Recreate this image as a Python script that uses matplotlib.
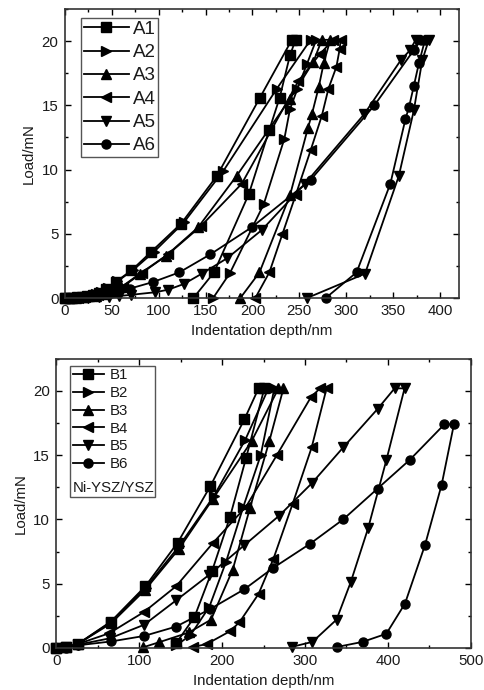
import matplotlib
matplotlib.use("Agg")
import matplotlib.pyplot as plt
from matplotlib.ticker import MultipleLocator
from matplotlib.patches import Rectangle

plt.rcParams['font.family'] = ['Liberation Sans', 'DejaVu Sans']

# ---- top panel: A series (loading then unloading), depth nm / load mN
A1_x = [0, 4, 8, 13, 18, 24, 30, 36, 44, 54, 71, 92, 124, 162, 208, 242, 246, 240, 229, 218, 196, 159, 137]
A1_y = [0, 0.01, 0.03, 0.06, 0.1, 0.17, 0.27, 0.42, 0.7, 1.25, 2.15, 3.6, 5.8, 9.5, 15.6, 20.1, 20.1, 18.9, 15.6, 13.1, 8.07, 2.0, 0]
A2_x = [0, 5, 10, 15, 21, 27, 33, 39, 46, 56, 73, 95, 127, 169, 226, 262, 268, 258, 248, 240, 234, 212, 176, 158]
A2_y = [0, 0.01, 0.03, 0.06, 0.11, 0.19, 0.3, 0.46, 0.75, 1.3, 2.2, 3.6, 5.9, 9.9, 16.3, 20.1, 20.1, 18.2, 16.3, 14.7, 12.4, 7.3, 1.95, 0]
A3_x = [0, 6, 12, 19, 26, 33, 40, 47, 60, 80, 108, 142, 183, 240, 265, 274, 283, 276, 270.6, 263.5, 259, 240, 207.5, 187]
A3_y = [0, 0.01, 0.03, 0.07, 0.13, 0.2, 0.31, 0.45, 0.85, 1.9, 3.3, 5.5, 9.5, 15.5, 18.4, 20.1, 20.1, 18.3, 16.4, 14.35, 13.2, 8.0, 2.0, 0]
A4_x = [0, 7, 14, 21, 28, 35, 42, 49, 62, 82, 110, 145, 188.6, 249, 272, 286, 294, 293, 289.5, 281, 274, 262, 246, 232, 218, 203]
A4_y = [0, 0.01, 0.03, 0.07, 0.14, 0.21, 0.32, 0.47, 0.9, 1.95, 3.4, 5.6, 8.9, 16.9, 19.0, 20.1, 20.1, 19.4, 18.0, 16.3, 14.2, 11.5, 8.0, 5.0, 2.0, 0]
A5_x = [0, 12, 25, 36, 47, 58, 70, 96, 110, 127, 146, 173, 210, 256, 319, 358, 368, 374, 388, 381, 372, 356, 320, 258]
A5_y = [0, 0.01, 0.02, 0.05, 0.1, 0.16, 0.25, 0.45, 0.65, 1.1, 1.9, 3.1, 5.3, 8.9, 14.3, 18.5, 19.3, 20.1, 20.1, 18.5, 14.6, 9.5, 1.9, 0]
A6_x = [0, 10, 20, 31, 42, 55, 69, 94, 122, 155, 199, 262, 330, 372, 380, 384, 377.5, 372, 367, 363, 347, 311, 278]
A6_y = [0, 0.03, 0.08, 0.18, 0.33, 0.5, 0.73, 1.25, 2.0, 3.4, 5.5, 9.2, 15.0, 19.3, 20.1, 20.1, 18.3, 16.5, 14.9, 13.9, 8.9, 2.0, 0]

# ---- bottom panel: B series
B1_x = [0, 12, 26, 66, 107.6, 146.6, 186, 227, 244, 251, 229, 209.6, 188, 166.7, 144.6]
B1_y = [0, 0.05, 0.3, 2.05, 4.8, 8.2, 12.6, 17.8, 20.2, 20.2, 14.8, 10.2, 6.0, 2.4, 0.36]
B2_x = [0, 12, 26, 66, 108, 148, 190, 228, 256, 263, 246.6, 225.7, 204.8, 184.7, 162, 145]
B2_y = [0, 0.05, 0.3, 2.0, 4.7, 7.9, 11.8, 16.2, 20.2, 20.2, 15.0, 11.0, 6.7, 3.2, 1.0, 0.2]
B3_x = [0, 12, 26, 66, 107, 148, 189, 235.7, 268, 274, 257, 233.7, 212.9, 186.7, 160, 124.5, 105]
B3_y = [0, 0.05, 0.3, 1.9, 4.5, 7.7, 11.6, 16.1, 20.2, 20.2, 16.1, 10.9, 6.1, 2.2, 1.2, 0.45, 0.05]
B4_x = [0, 12, 26, 64, 106, 144.6, 188.8, 229, 266, 307, 318, 326, 308, 285, 262, 244, 221, 209.6, 181.5, 165.5]
B4_y = [0, 0.05, 0.3, 1.14, 2.8, 4.8, 8.15, 11.0, 15.0, 19.5, 20.2, 20.2, 15.6, 11.2, 6.95, 4.2, 2.0, 1.3, 0.3, 0.08]
B5_x = [0, 12, 26, 65, 106, 144.6, 184.7, 227, 269, 308, 346, 387.5, 408, 420, 398, 376, 355, 338, 309, 284]
B5_y = [0, 0.05, 0.25, 0.75, 1.8, 3.7, 5.7, 8.0, 10.3, 12.8, 15.6, 18.6, 20.2, 20.2, 14.6, 9.3, 5.1, 2.2, 0.47, 0.08]
B6_x = [0, 12, 26, 66, 106, 144.6, 185, 227, 261, 306, 346, 387.5, 426.5, 468, 479.5, 464.7, 444.6, 420.5, 398, 369.5, 339]
B6_y = [0, 0.03, 0.2, 0.5, 0.93, 1.66, 3.0, 4.57, 6.2, 8.1, 10.0, 12.4, 14.65, 17.4, 17.4, 12.7, 8.0, 3.45, 1.1, 0.47, 0.08]

markers = ['s', '>', '^', '<', 'v', 'o']
top_series = [(A1_x, A1_y), (A2_x, A2_y), (A3_x, A3_y), (A4_x, A4_y), (A5_x, A5_y), (A6_x, A6_y)]
top_labels = ['A1', 'A2', 'A3', 'A4', 'A5', 'A6']
bot_series = [(B1_x, B1_y), (B2_x, B2_y), (B3_x, B3_y), (B4_x, B4_y), (B5_x, B5_y), (B6_x, B6_y)]
bot_labels = ['B1', 'B2', 'B3', 'B4', 'B5', 'B6']

txt_col = '#1a1a1a'

fig = plt.figure(figsize=(4.84, 6.9), dpi=100)
ax1 = fig.add_axes([0.134, 0.568, 0.814, 0.419])
ax2 = fig.add_axes([0.116, 0.061, 0.857, 0.419])


def style_axes(ax, xmax, xmajor, xminor):
    ax.set_xlim(0, xmax)
    ax.set_ylim(0, 22.5)
    ax.xaxis.set_major_locator(MultipleLocator(xmajor))
    ax.xaxis.set_minor_locator(MultipleLocator(xminor))
    ax.yaxis.set_major_locator(MultipleLocator(5))
    ax.yaxis.set_minor_locator(MultipleLocator(2.5))
    ax.tick_params(which='both', direction='in', top=True, right=True,
                   labelsize=10.8, labelcolor=txt_col, width=1.0, pad=4.5)
    ax.tick_params(which='major', length=4)
    ax.tick_params(which='minor', length=2.5)
    for sp in ax.spines.values():
        sp.set_linewidth(1.2)
        sp.set_color('#333333')
    ax.set_xlabel('Indentation depth/nm', fontsize=10.8, color=txt_col, labelpad=4)
    ax.set_ylabel('Load/mN', fontsize=10.8, color=txt_col, labelpad=4)


for (x, y), m, lab in zip(top_series, markers, top_labels):
    ax1.plot(x, y, color='black', lw=1.3, marker=m, ms=6.5, label=lab, clip_on=False)
style_axes(ax1, 420, 50, 25)
leg1 = ax1.legend(loc='upper left', bbox_to_anchor=(0.041, 0.969), borderaxespad=0,
                  fontsize=13.5, handlelength=2.4, handletextpad=0.2, labelspacing=0.33,
                  borderpad=0.15, fancybox=False, edgecolor='#555555', framealpha=1)
leg1.get_frame().set_linewidth(1.0)
for t in leg1.get_texts():
    t.set_color(txt_col)

for (x, y), m, lab in zip(bot_series, markers, bot_labels):
    ax2.plot(x, y, color='black', lw=1.3, marker=m, ms=6.5, label=lab, clip_on=False)
style_axes(ax2, 500, 100, 50)
leg2 = ax2.legend(loc='upper left', bbox_to_anchor=(0.036, 0.972), borderaxespad=0,
                  fontsize=10.8, handlelength=2.1, handletextpad=0.4, labelspacing=0.25,
                  borderpad=0.1, frameon=False)
for t in leg2.get_texts():
    t.set_color(txt_col)
ax2.text(0.040, 0.553, 'Ni-YSZ/YSZ', transform=ax2.transAxes, fontsize=10.8,
         color=txt_col, va='center', ha='left')
ax2.add_patch(Rectangle((0.034, 0.522), 0.205, 0.454, transform=ax2.transAxes,
                        fill=True, facecolor='white', edgecolor='#555555', lw=1.0, zorder=1.5))

fig.savefig('out.png', dpi=100)
